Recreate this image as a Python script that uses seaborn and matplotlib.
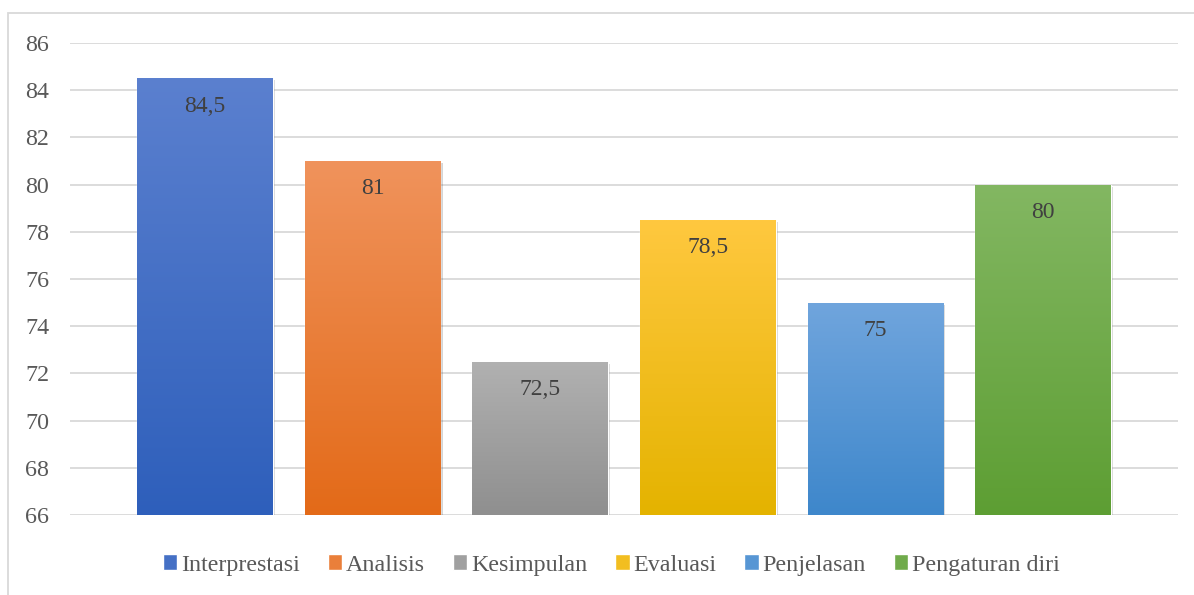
import numpy as np
import pandas as pd
import seaborn as sns
import matplotlib.pyplot as plt
from matplotlib.colors import LinearSegmentedColormap, to_rgb
from matplotlib.patches import Rectangle, Patch
import matplotlib.patheffects as pe

# data
categories = ["Interprestasi", "Analisis", "Kesimpulan", "Evaluasi", "Penjelasan", "Pengaturan diri"]
values = [84.5, 81, 72.5, 78.5, 75, 80]
yticks = list(range(66, 87, 2))

# gradient colours (top -> bottom), Excel style
top_colors = ["#5b80cf", "#f0935c", "#b1b1b1", "#ffc83f", "#70a5dd", "#83b762"]
bottom_colors = ["#2e5fbb", "#e36a18", "#8f8f8f", "#e4b300", "#3e87cb", "#5d9e33"]
mid_colors = [tuple((np.array(to_rgb(a)) + np.array(to_rgb(b))) / 2) for a, b in zip(top_colors, bottom_colors)]

sns.set_theme(style="white")
plt.rcParams["font.family"] = ["Liberation Serif", "DejaVu Serif"]

df = pd.DataFrame({"kategori": categories, "nilai": values})

fig = plt.figure(figsize=(11.94, 5.95), dpi=100)
ax = fig.add_axes([70 / 1194, 1 - 515 / 595, 1108 / 1194, 472 / 595])

sns.barplot(data=df, x="kategori", y="nilai", hue="kategori", palette=mid_colors,
            width=0.81, saturation=1, legend=False, ax=ax)

ax.set_ylim(66, 86)
ax.set_xlim(-0.805, 5.805)
ax.set_yticks(yticks)
ax.set_xticks([])
ax.set_xlabel("")
ax.set_ylabel("")
ax.yaxis.grid(True, color="#d9d9d9", lw=1.3)
ax.set_axisbelow(True)
for s in ax.spines.values():
    s.set_visible(False)
ax.tick_params(axis="y", length=0, pad=15, labelsize=17.3, labelcolor="#595959")

# gradient fill + labels
grad = np.linspace(0, 1, 256).reshape(-1, 1)
for p, top, bot, v in zip(ax.patches, top_colors, bottom_colors, values):
    x0 = p.get_x()
    w = p.get_width()
    y0 = max(p.get_y(), 66)
    y1 = p.get_y() + p.get_height()
    p.set_path_effects([pe.SimplePatchShadow(offset=(1.5, -1.5), shadow_rgbFace="k", alpha=0.18), pe.Normal()])
    cmap = LinearSegmentedColormap.from_list("g", [bot, top])
    im = ax.imshow(grad, extent=(x0, x0 + w, y0, y1), origin="lower", cmap=cmap,
                   aspect="auto", zorder=p.get_zorder() + 0.1)
    im.set_clip_path(p)
    ax.annotate(f"{v:g}".replace(".", ","), (x0 + w / 2, y1), xytext=(0, -20),
                textcoords="offset points", ha="center", va="center",
                fontsize=17, color="#404040", zorder=5)

ax.set_xlim(-0.805, 5.805)
ax.set_ylim(66, 86)

# legend
handles = [Patch(facecolor=c, label=lab) for c, lab in zip(mid_colors, categories)]
fig.legend(handles=handles, loc="center", bbox_to_anchor=(0.512, 1 - 565 / 595), ncol=6,
           frameon=False, fontsize=17.3, handlelength=0.6, handleheight=0.6,
           handletextpad=0.15, columnspacing=1.17, labelcolor="#595959")

# chart border
fig.patches.append(Rectangle((8 / 1194, -0.05), 1.2, 1 - 13 / 595 + 0.05, transform=fig.transFigure,
                             fill=False, ec="#d9d9d9", lw=1.3))

fig.savefig("out.png", dpi=100)
